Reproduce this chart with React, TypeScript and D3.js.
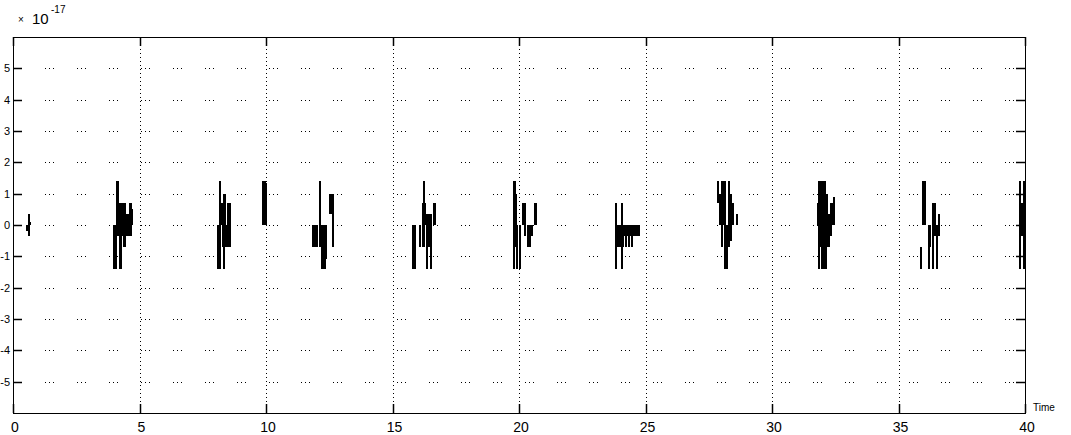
import React, { useEffect, useRef } from 'react';
import * as d3 from 'd3';

// x axis: time (s), y axis: signal (x 1e-17)
const xTicks = [0, 5, 10, 15, 20, 25, 30, 35, 40];
const yTicks = [-5, -4, -3, -2, -1, 0, 1, 2, 3, 4, 5];
const xDomain = [0, 40];
const yDomain = [-6, 6];

// each burst: list of [time, low, high] strokes
const burst0 = [[0.55, -0.2, 0], [0.63, -0.35, 0.35], [0.67, 0, 0.1]];
const burst4 = [
	[3.99, -1.4, 0], [4.07, -1.4, 0], [4.11, -0.35, 1.4], [4.15, -0.35, 1.4], [4.19, -0.35, 0.7],
	[4.21, -1.4, 0.7], [4.27, -1.4, 0.7], [4.31, -0.35, 0.7], [4.39, -0.7, 0.7], [4.43, -0.7, 0.7],
	[4.47, -0.35, 0.35], [4.55, -0.35, 0.35], [4.62, -0.35, 0.7], [4.66, -0.35, 0.7], [4.72, 0, 0.5],
];
const burst8 = [
	[8.10, -1.4, 0], [8.18, -1.4, 1.4], [8.22, 0, 0.7], [8.26, 0, 0.7], [8.30, -0.7, 0.7],
	[8.34, -1.4, 1.0], [8.38, -0.7, 1.0], [8.42, -0.7, 0], [8.46, -0.7, 0], [8.50, -0.7, 0.7],
	[8.54, -0.7, 0], [8.58, -0.7, 0.7],
];
const burst10 = [[9.88, 0, 1.4], [9.92, 0, 1.4], [9.96, 0, 1.4], [10.0, 0, 1.35]];
const burst12 = [
	[11.86, -0.7, 0], [11.9, -0.7, 0], [11.94, -0.7, 0], [11.98, -0.7, 0], [12.02, -0.7, 0],
	[12.13, -0.7, 1.4], [12.21, -1.4, 0], [12.25, -1.4, 0], [12.29, -1.4, 0], [12.33, -1.4, 0],
	[12.37, -1.1, 0], [12.53, 0.35, 1.0], [12.57, 0.35, 1.0], [12.65, -0.7, 1.0],
];
const burst16 = [
	[15.81, -1.4, 0], [15.85, -1.4, 0], [15.89, -1.4, 0], [16.09, -0.7, 0], [16.21, -0.7, 0.7],
	[16.25, -0.7, 1.4], [16.28, 0, 0.7], [16.36, -1.4, 0.35], [16.4, -0.7, 0.35], [16.44, -0.7, 0.35],
	[16.52, -1.4, 0.35], [16.64, 0, 0.7], [16.68, 0, 0.7],
];
const burst20 = [
	[19.80, -1.4, 1.4], [19.84, -0.7, 1.4], [19.88, -0.7, 1.0], [19.92, -1.4, 0], [20.04, -1.4, 0],
	[20.16, 0, 0.7], [20.2, 0, 0.7], [20.24, -0.35, 0.7], [20.36, -0.7, 0], [20.40, -0.7, 0],
	[20.43, -0.7, 0], [20.51, -0.35, 0], [20.63, 0, 0.7], [20.69, 0, 0.7],
];
const burst24 = [
	[23.83, -1.4, 0.7], [23.91, -0.7, 0], [23.95, -0.7, 0], [23.99, -0.7, 0], [24.07, -1.4, 0.7],
	[24.11, -0.7, 0], [24.15, -0.35, 0], [24.19, -0.35, 0], [24.23, -0.7, 0], [24.27, -0.35, 0],
	[24.31, -0.35, 0], [24.35, -0.7, 0], [24.39, -0.35, 0], [24.43, -0.35, 0], [24.47, -0.7, 0],
	[24.51, -0.35, 0], [24.55, -0.35, 0], [24.59, -0.35, 0], [24.63, -0.35, 0], [24.67, -0.35, 0],
	[24.71, -0.35, 0], [24.75, -0.35, 0],
];
const burst28 = [
	[27.87, 0.7, 1.4], [27.94, 0, 1.0], [28.02, -0.7, 1.4], [28.06, 0, 1.4], [28.10, 0, 1.4],
	[28.14, -1.4, 1.4], [28.22, -1.4, 0], [28.30, -0.7, 1.4], [28.34, 0.35, 1.0], [28.38, -0.5, 1.0],
	[28.46, 0, 0.7], [28.62, 0, 0.35],
];
const burst32 = [
	[31.82, 0, 0.7], [31.86, -1.4, 1.4], [31.9, -0.7, 1.4], [31.94, -0.7, 1.4], [31.98, -1.4, 1.4],
	[32.02, -0.7, 1.4], [32.06, -1.4, 1.4], [32.10, -0.7, 1.4], [32.14, -1.4, 1.0], [32.18, -0.7, 1.0],
	[32.22, -0.7, 0.35], [32.26, -0.7, 0.35], [32.30, -0.35, 0.35], [32.34, -0.35, 0.7], [32.42, 0, 0.7],
	[32.46, 0, 0.9],
];
const burst36 = [
	[35.89, -1.4, -0.7], [35.97, 0, 1.4], [36.01, 0, 1.4], [36.05, 0, 1.4], [36.21, -1.4, 0],
	[36.25, -0.7, 0], [36.36, -1.4, 0.7], [36.40, -0.35, 0.7], [36.44, -0.35, 0.7], [36.52, -1.4, 0],
	[36.60, -0.35, 0.35],
];
const burst40 = [[39.82, -1.4, 1.4], [39.86, -0.35, 0.7], [39.9, -0.35, 0.7], [39.96, -1.4, 1.4]];

const bursts = [burst0, burst4, burst8, burst10, burst12, burst16, burst20, burst24, burst28, burst32, burst36, burst40];

const W = 1071;
const H = 435;
const margin = { top: 37, right: 46, bottom: 22, left: 13 };

export default function App() {
	const ref = useRef<SVGSVGElement>(null);

	useEffect(() => {
		const svg = d3.select(ref.current);
		svg.selectAll('*').remove();

		const x = d3.scaleLinear().domain(xDomain).range([margin.left, W - margin.right]);
		const y = d3.scaleLinear().domain(yDomain).range([H - margin.bottom, margin.top]);
		const x0 = x.range()[0];
		const x1 = x.range()[1];
		const y0 = y.range()[1];
		const y1 = y.range()[0];
		const font = 'Liberation Sans, Arial, sans-serif';

		// grid
		const grid = svg.append('g').attr('stroke', '#000').attr('stroke-width', 1);
		grid.selectAll('line.gx')
			.data(xTicks.filter(d => d > xDomain[0] && d < xDomain[1]))
			.enter().append('line')
			.attr('x1', d => Math.round(x(d)) + 0.5).attr('x2', d => Math.round(x(d)) + 0.5)
			.attr('y1', y0).attr('y2', y1)
			.attr('stroke-dasharray', '1,3');
		grid.selectAll('line.gy')
			.data(yTicks)
			.enter().append('line')
			.attr('y1', d => Math.round(y(d)) + 0.5).attr('y2', d => Math.round(y(d)) + 0.5)
			.attr('x1', x0).attr('x2', x1)
			.attr('stroke-dasharray', '1,3,1,3,1,23');

		// signal bursts: vertical strokes
		const line = d3.line<number[]>().x(d => x(d[0])).y(d => y(d[1]));
		const sig = svg.append('g').attr('shape-rendering', 'crispEdges');
		bursts.forEach((b) => {
			b.forEach((s) => {
				sig.append('path')
					.attr('d', line([[s[0], s[1]], [s[0], s[2]]]))
					.attr('fill', 'none')
					.attr('stroke', '#000')
					.attr('stroke-width', 2);
			});
		});

		// box
		svg.append('rect')
			.attr('x', x0 + 0.5).attr('y', y0 + 0.5)
			.attr('width', x1 - x0).attr('height', y1 - y0)
			.attr('fill', 'none').attr('stroke', '#000').attr('stroke-width', 1);

		// ticks
		const tk = svg.append('g').attr('stroke', '#000').attr('stroke-width', 1.5);
		xTicks.forEach((t) => {
			const px = Math.round(x(t)) + 0.5;
			tk.append('line').attr('x1', px).attr('x2', px).attr('y1', y1).attr('y2', y1 - 9);
			tk.append('line').attr('x1', px).attr('x2', px).attr('y1', y0).attr('y2', y0 + 9);
		});
		yTicks.forEach((t) => {
			const py = Math.round(y(t)) + 0.5;
			tk.append('line').attr('y1', py).attr('y2', py).attr('x1', x0).attr('x2', x0 + 9);
			tk.append('line').attr('y1', py).attr('y2', py).attr('x1', x1).attr('x2', x1 - 9);
		});

		// tick labels
		svg.append('g').selectAll('text')
			.data(xTicks)
			.enter().append('text')
			.attr('x', d => x(d) + 2)
			.attr('y', y1 + 19)
			.attr('text-anchor', 'middle')
			.attr('font-family', font)
			.attr('font-size', 14)
			.attr('fill', '#000')
			.text(d => d);
		svg.append('g').selectAll('text')
			.data(yTicks)
			.enter().append('text')
			.attr('x', 10)
			.attr('y', d => y(d) + 4)
			.attr('text-anchor', 'end')
			.attr('font-family', font)
			.attr('font-size', 11)
			.attr('fill', '#000')
			.text(d => d);

		// exponent
		const ex = svg.append('text').attr('font-family', font).attr('fill', '#000');
		ex.append('tspan').attr('x', 18).attr('y', 23).attr('font-size', 10).text('×');
		ex.append('tspan').attr('x', 32).attr('y', 24).attr('font-size', 15).text('10');
		ex.append('tspan').attr('x', 51).attr('y', 13).attr('font-size', 10).text('-17');

		// axis label
		svg.append('text')
			.attr('x', x1 + 8).attr('y', y1 - 2)
			.attr('font-family', font).attr('font-size', 10)
			.attr('fill', '#000')
			.text('Time');
	}, []);

	return (
		<svg
			ref={ref}
			width={W}
			height={H}
			style={{ position: 'absolute', left: 0, top: 0, background: '#fff' }}
		/>
	);
}
